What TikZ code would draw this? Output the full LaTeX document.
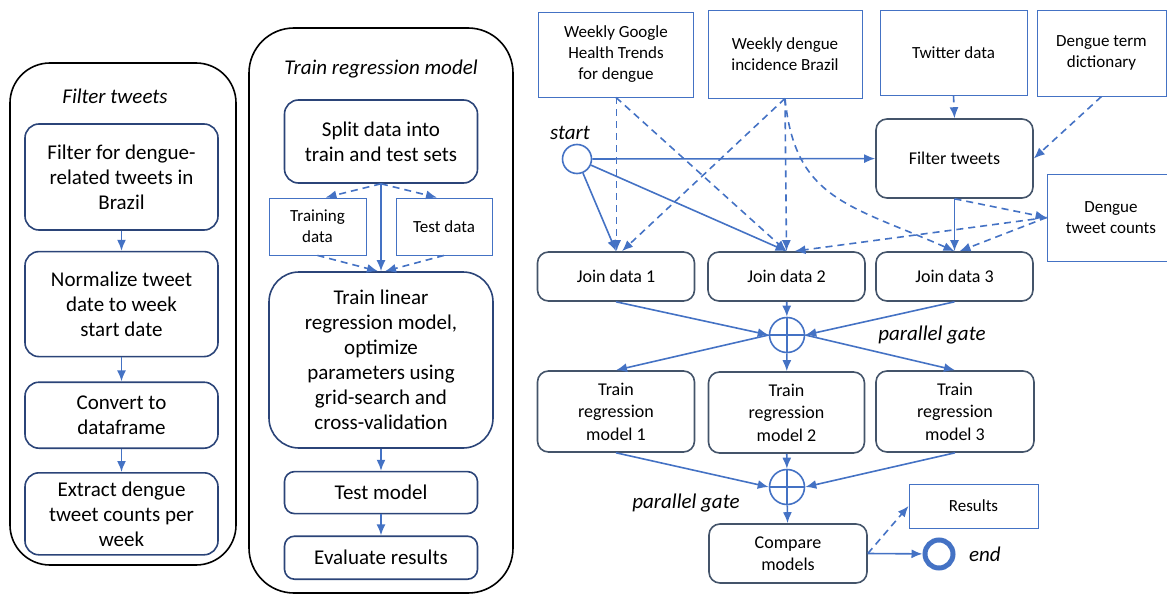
\documentclass[tikz,border=0pt]{standalone}
\usepackage{fontspec}
\setmainfont{Carlito}
\usepackage{tikz}
\usetikzlibrary{positioning,shapes.geometric,arrows.meta}
\definecolor{lineblue}{HTML}{4472C4}
\definecolor{slate}{HTML}{44546A}
\definecolor{navy}{HTML}{2B4478}

\begin{document}
\begin{tikzpicture} [x=1pt, y=-1pt, >={Latex[length=11pt,width=9pt]},
    bigstep/.style={rectangle, draw=navy, line width=1.6pt, rounded corners=14pt,
    align=center, inner sep=2pt, minimum width=193pt, font=\fontsize{21}{25}\selectfont},
    astep/.style={rectangle, draw=slate, line width=1.6pt, rounded corners=11pt,
    align=center, inner sep=2pt, font=\fontsize{18}{22.5}\selectfont},
    data/.style={rectangle, draw=lineblue, line width=0.9pt, align=center,
    inner sep=2pt, font=\fontsize{17}{21}\selectfont},
    gate/.style={circle, draw=lineblue, line width=1.6pt, minimum size=35pt, inner sep=0pt},
    con/.style={->, draw=lineblue, line width=1.6pt},
    dcon/.style={con, dash pattern=on 7pt off 5pt},
    title/.style={font=\fontsize{21}{25}\selectfont\itshape},
    panel/.style={draw=black, line width=1.6pt, rounded corners=40pt}
    ]
    \useasboundingbox (0,0) rectangle (1167,594);

    % filter tweets panel
    \draw [panel] (10,63) rectangle (236,565);
    \node (f0) at (115,96) [title] {Filter tweets};
    \node (f1) at (121.5,177) [bigstep, minimum height=106pt]
     {Filter for dengue-\\related tweets in\\Brazil};
    \node (f2) [bigstep, minimum height=105pt, below=20pt of f1]
     {Normalize tweet\\date to week\\start date};
    \node (f3) [bigstep, minimum height=66pt, below=24pt of f2]
     {Convert to\\dataframe};
    \node (f4) [bigstep, minimum height=82pt, below=23pt of f3]
     {Extract dengue\\tweet counts per\\week};

     \draw [con] (f1) -- (f2);
     \draw [con] (f2) -- (f3);
     \draw [con] (f3) -- (f4);

    % train regression model panel
    \draw [panel, rounded corners=45pt] (249,28) rectangle (513,593);
    \node (m0) at (381,69) [title] {Train regression model};
    \node (m1) at (381,141.5) [bigstep, minimum height=83pt]
     {Split data into\\train and test sets};
    \node (m2) at (317.5,226.5) [data, minimum width=97pt, minimum height=57pt]
     {Training\\data};
    \node (m3) at (444,226.5) [data, minimum width=96pt, minimum height=57pt]
     {Test data};
    \node (m4) at (381,360) [bigstep, minimum width=224pt, minimum height=176pt, rounded corners=30pt]
     {Train linear\\regression model,\\optimize\\parameters using\\grid-search and\\cross-validation};
    \node (m5) [bigstep, minimum height=42pt, rounded corners=10pt, below=22pt of m4] {Test model};
    \node (m6) [bigstep, minimum height=43pt, rounded corners=10pt, below=21pt of m5] {Evaluate results};

     \draw [con] (m1) -- (m4);
     \draw [dcon] (m1.south) -- ([xshift=8pt]m2.north);
     \draw [dcon] (m1.south) -- ([xshift=-7pt]m3.north);
     \draw [dcon] (m2.south) -- ([xshift=-3pt]m4.north);
     \draw [dcon] (m3.south) -- ([xshift=4pt]m4.north);
     \draw [con] (m4) -- (m5);
     \draw [con] (m5) -- (m6);

    % workflow
    \node (n1) at (616,54.5) [data, minimum width=155pt, minimum height=85pt]
     {Weekly Google\\Health Trends\\for dengue};
    \node (n2) at (785,54) [data, minimum width=154pt, minimum height=88pt]
     {Weekly dengue\\incidence Brazil};
    \node (n3) at (953.5,52.5) [data, minimum width=147pt, minimum height=85pt]
     {Twitter data};
    \node (n4) at (1101.5,53) [data, minimum width=129pt, minimum height=86pt]
     {Dengue term\\dictionary};
    \node (n5) at (577,159) [gate, minimum size=29pt] {};
    \node (s0) [title, above=1pt of n5, xshift=-7pt] {start};
    \node (n6) at (954.5,158.5) [astep, minimum width=157pt, minimum height=79pt] {Filter tweets};
    \node (n7) at (1111,217.5) [data, minimum width=128pt, minimum height=87pt]
     {Dengue\\tweet counts};
    \node (n8) at (616,276.5) [astep, minimum width=157pt, minimum height=49pt] {Join data 1};
    \node (n9) at (786.5,276.5) [astep, minimum width=157pt, minimum height=49pt] {Join data 2};
    \node (n10) at (954.5,276.5) [astep, minimum width=157pt, minimum height=49pt] {Join data 3};
    \node (n11) at (787,335) [gate] {};
    \node (g1) at (932,335) [title] {parallel gate};
    \node (n12) at (616,411.5) [astep, minimum width=157pt, minimum height=81pt]
     {Train\\regression\\model 1};
    \node (n13) at (786.5,412.5) [astep, minimum width=156pt, minimum height=81pt]
     {Train\\regression\\model 2};
    \node (n14) at (955,411.5) [astep, minimum width=158pt, minimum height=81pt]
     {Train\\regression\\model 3};
    \node (n15) at (787,487) [gate] {};
    \node (g2) at (686,503) [title] {parallel gate};
    \node (n16) at (788,553.5) [astep, minimum width=158pt, minimum height=59pt]
     {Compare\\models};
    \node (n17) at (973.5,506) [data, minimum width=129pt, minimum height=44pt] {Results};
    \node (n18) at (939,554) [circle, draw=lineblue, line width=5pt, minimum size=28pt] {};
    \node (e0) [title, right=10pt of n18] {end};

     \draw [dcon] ([xshift=0.6pt]n1.south) -- ([xshift=0.6pt]n8.north);
     \draw [dcon] (n1.south) -- (n9.north);
     \draw [dcon] (n2.south) -- ([xshift=6pt]n8.north);
     \draw [dcon] (n2.south) -- (n9.north);
     \draw [dcon] (n2.south) .. controls (795,200) and (850,205) .. (n10.north);
     \draw [dcon] (n3.south) -- (n6.north);
     \draw [dcon] (n4.south) -- (n6.east);
     \draw [con] (n5) -- (n6);
     \draw [con] (n5) -- (n8.north);
     \draw [con] (n5) -- (n9.north);
     \draw [con] (n6) -- (n10);
     \draw [dcon] (n6.south) -- (n7.west);
     \draw [dcon] (n7.west) -- ([xshift=8pt]n9.north);
     \draw [dcon] (n7.west) -- ([xshift=5pt]n10.north);

     \draw [draw=lineblue, line width=1.6pt] (n11.north) -- (n11.south) (n11.west) -- (n11.east);
     \draw [con] (n8.south) -- (n11.west);
     \draw [con] (n9) -- (n11);
     \draw [con] (n10.south) -- (n11.east);
     \draw [con] (n11.west) -- (n12.north);
     \draw [con] (n11) -- (n13);
     \draw [con] (n11.east) -- (n14.north);

     \draw [draw=lineblue, line width=1.6pt] (n15.north) -- (n15.south) (n15.west) -- (n15.east);
     \draw [con] (n12.south) -- (n15.west);
     \draw [con] (n13) -- (n15);
     \draw [con] (n14.south) -- (n15.east);
     \draw [con] (n15) -- (n16);
     \draw [con] (n16.east) -- (n18);
     \draw [dcon] (n16.east) -- (n17.west);
  \end{tikzpicture}
\end{document}
